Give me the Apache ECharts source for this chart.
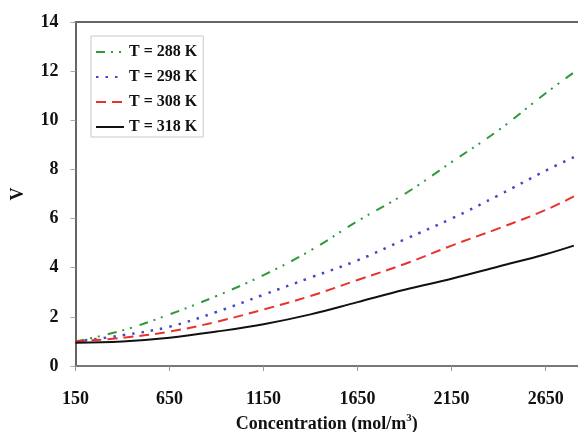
<!DOCTYPE html>
<html>
<head>
<meta charset="utf-8">
<script src="https://cdn.jsdelivr.net/npm/echarts@6/dist/echarts.min.js"></script>
<style>
  html, body { margin: 0; padding: 0; background: #fff; }
  #chart { width: 578px; height: 432px; }
</style>
</head>
<body>
<div id="chart"></div>
<script>
// Concentration (mol/m^3) sample points
const concentration = [150, 400, 650, 900, 1150, 1400, 1650, 1900, 2150, 2400, 2650, 2800];

// V at each temperature
const v288 = [1.0, 1.45, 2.1, 2.85, 3.7, 4.7, 5.9, 7.0, 8.3, 9.6, 11.1, 11.95];
const v298 = [1.0, 1.25, 1.6, 2.2, 2.9, 3.6, 4.3, 5.15, 6.0, 6.95, 7.95, 8.5];
const v308 = [1.0, 1.15, 1.4, 1.8, 2.3, 2.85, 3.5, 4.15, 4.9, 5.6, 6.35, 6.9];
const v318 = [0.95, 1.0, 1.15, 1.4, 1.7, 2.1, 2.6, 3.1, 3.55, 4.05, 4.55, 4.9];

const seriesNames = ['T = 288 K', 'T = 298 K', 'T = 308 K', 'T = 318 K'];
const xTickStart = 150;

const FONT = '"Liberation Serif", "Times New Roman", serif';

// the x axis runs from 0 so ticks land on 150, 650, ...; labels add the offset back
function pairs(vals) {
  return concentration.map((c, i) => [c - xTickStart, vals[i]]);
}

function lineSeries(name, vals, color, type, width) {
  return {
    name: name,
    type: 'line',
    data: pairs(vals),
    smooth: 0.4,
    symbol: 'none',
    lineStyle: { color: color, width: width, type: type },
    itemStyle: { color: color }
  };
}

const chart = echarts.init(document.getElementById('chart'), null, { renderer: 'canvas' });

chart.setOption({
  animation: false,
  backgroundColor: '#ffffff',
  grid: { left: 75.5, right: 0, top: 22, bottom: 66, containLabel: false, outerBoundsMode: 'none' },
  legend: {
    orient: 'vertical',
    left: 91,
    top: 36,
    padding: [8, 6, 2, 4],
    itemWidth: 28,
    itemHeight: 14,
    itemGap: 9,
    borderColor: '#c8c8c8',
    borderWidth: 1,
    itemStyle: { opacity: 0 },
    textStyle: { fontFamily: FONT, fontWeight: 'bold', fontSize: 16, color: '#111' },
    data: seriesNames
  },
  xAxis: [{
    type: 'value',
    min: 0,
    max: 2672,
    interval: 500,
    name: '{a|Concentration (mol/m}{s|3}{a|)}',
    nameLocation: 'middle',
    nameGap: 45,
    nameTextStyle: {
      rich: {
        a: { fontFamily: FONT, fontWeight: 'bold', fontSize: 18, color: '#111' },
        s: { fontFamily: FONT, fontWeight: 'bold', fontSize: 11, color: '#111', verticalAlign: 'top', padding: [0, 0, 12, 0] }
      }
    },
    axisLine: { show: true, lineStyle: { color: '#777', width: 2 } },
    axisTick: { show: true, length: 5, lineStyle: { color: '#999', width: 1 } },
    axisLabel: {
      showMaxLabel: false,
      margin: 24,
      fontFamily: FONT, fontWeight: 'bold', fontSize: 18, color: '#111',
      formatter: v => String(v + xTickStart)
    },
    splitLine: { show: false }
  }, {
    type: 'value',
    position: 'top',
    min: 0,
    max: 2672,
    axisLine: { show: true, lineStyle: { color: '#666', width: 2 } },
    axisTick: { show: false },
    axisLabel: { show: false },
    splitLine: { show: false }
  }],
  yAxis: {
    type: 'value',
    min: 0,
    max: 14,
    interval: 2,
    name: 'V',
    nameLocation: 'middle',
    nameGap: 48,
    nameRotate: 90,
    nameTextStyle: { fontFamily: FONT, fontWeight: 'bold', fontSize: 18, color: '#111' },
    axisLine: { show: true, lineStyle: { color: '#666', width: 2 } },
    axisTick: { show: true, length: 5, lineStyle: { color: '#aaa', width: 1 } },
    axisLabel: { margin: 17, padding: [4, 0, 0, 0], fontFamily: FONT, fontWeight: 'bold', fontSize: 18, color: '#111' },
    splitLine: { show: false }
  },
  series: [
    lineSeries(seriesNames[0], v288, '#2e9a3a', [9, 6, 2, 6, 2, 8], 2),
    lineSeries(seriesNames[1], v298, '#4646c8', [2.5, 7], 2.5),
    lineSeries(seriesNames[2], v308, '#e8322c', [10, 6], 2),
    lineSeries(seriesNames[3], v318, '#111111', 'solid', 2)
  ]
});
</script>
</body>
</html>
